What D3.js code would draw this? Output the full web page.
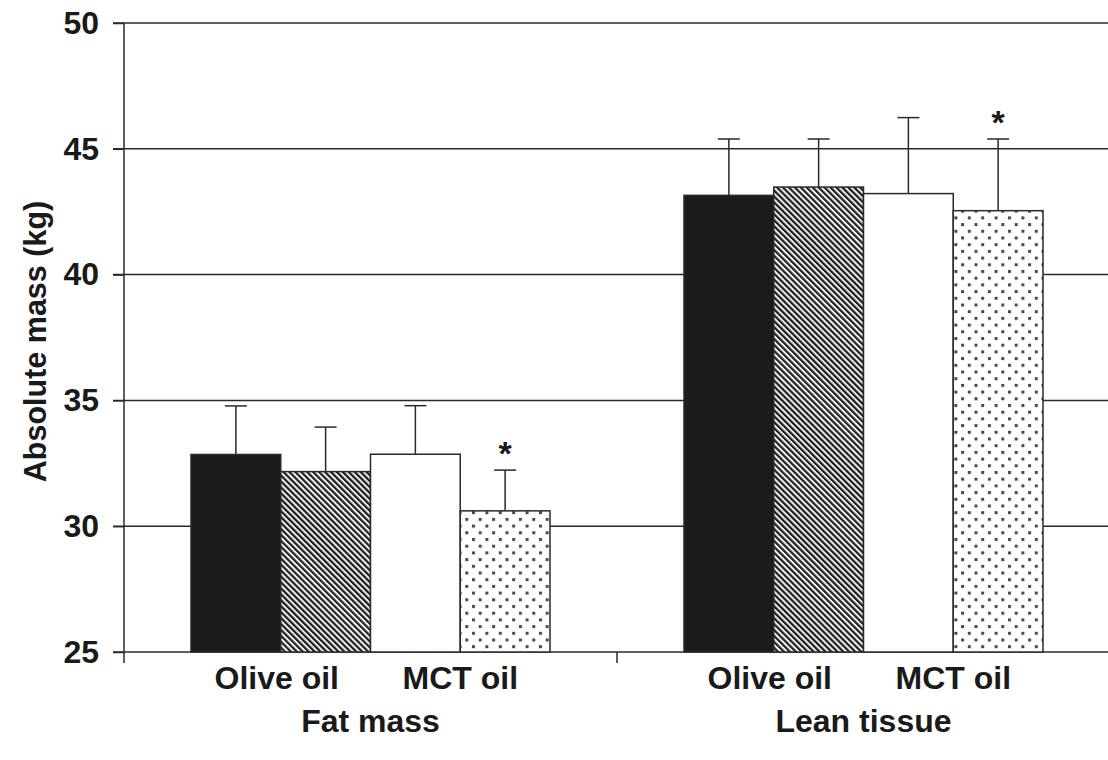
<!DOCTYPE html>
<html>
<head>
<meta charset="utf-8">
<script src="https://cdn.jsdelivr.net/npm/d3@7/dist/d3.min.js"></script>
<style>
  html, body { margin: 0; padding: 0; background: #fff; }
  svg { display: block; }
  text { font-family: "Liberation Sans", Arial, Helvetica, sans-serif; font-weight: bold; fill: #1a1a1a; }
</style>
</head>
<body>
<svg id="chart" width="1108" height="760"></svg>
<script>
// ---- data ----
const groups = ["Fat mass", "Lean tissue"];
const seriesKeys = ["oliveBaseline", "oliveEnd", "mctBaseline", "mctEnd"];
const pairLabels = ["Olive oil", "MCT oil"];
const fatMassMean = [32.85, 32.17, 32.86, 30.61];
const fatMassErr = [1.93, 1.77, 1.93, 1.62];
const leanTissueMean = [43.15, 43.48, 43.22, 42.54];
const leanTissueErr = [2.24, 1.91, 3.02, 2.85];
const significant = [false, false, false, true];
const yTicks = [25, 30, 35, 40, 45, 50];
const yTitle = "Absolute mass (kg)";

// ---- setup ----
const svg = d3.select("#chart");
const W = 1108, H = 760;
const FS = 32;
const x0 = d3.scaleBand().domain(groups).range([124, 1110]).paddingInner(0).paddingOuter(0);
const x1 = d3.scaleBand().domain(seriesKeys).range([0, x0.bandwidth()]).paddingInner(0).paddingOuter(0.7465);
const y = d3.scaleLinear().domain([25, 50]).range([652, 23]);

const lineColor = "#2a2a2a";

// patterns
const defs = svg.append("defs");
const hatch = defs.append("pattern")
  .attr("id", "hatch").attr("patternUnits", "userSpaceOnUse")
  .attr("width", 4.2).attr("height", 10)
  .attr("patternTransform", "rotate(-45)");
hatch.append("rect").attr("width", 4.2).attr("height", 10).attr("fill", "#f2f2f2");
hatch.append("rect").attr("width", 2.2).attr("height", 10).attr("fill", "#1e1e1e");

const dots = defs.append("pattern")
  .attr("id", "dots").attr("patternUnits", "userSpaceOnUse")
  .attr("width", 13.4).attr("height", 13.4).attr("x", 3).attr("y", 2);
dots.append("rect").attr("width", 13.4).attr("height", 13.4).attr("fill", "#ffffff");
dots.append("rect").attr("x", 0).attr("y", 0).attr("width", 3).attr("height", 3).attr("fill", "#4a4a4a");
dots.append("rect").attr("x", 6.7).attr("y", 6.7).attr("width", 3).attr("height", 3).attr("fill", "#4a4a4a");

const fills = { oliveBaseline: "#1c1c1c", oliveEnd: "url(#hatch)", mctBaseline: "#ffffff", mctEnd: "url(#dots)" };

// gridlines
svg.append("g").selectAll("line").data(yTicks.filter(d => d > 25)).join("line")
  .attr("x1", 113).attr("x2", W).attr("y1", d => y(d)).attr("y2", d => y(d))
  .attr("stroke", lineColor).attr("stroke-width", 1.5);

// y axis
const yAxis = d3.axisLeft(y).tickValues(yTicks).tickSize(11).tickPadding(14).tickSizeOuter(0);
const gy = svg.append("g").attr("transform", "translate(124,0)").call(yAxis);
gy.select(".domain").attr("stroke", lineColor).attr("stroke-width", 1.5).attr("d", "M0,23V663");
gy.selectAll(".tick line").attr("stroke", lineColor).attr("stroke-width", 1.5);
gy.selectAll(".tick text").attr("font-size", FS).attr("font-family", "Liberation Sans, Arial, sans-serif").attr("font-weight", "bold").attr("fill", "#1a1a1a");

// x axis line + ticks
svg.append("line").attr("x1", 113).attr("x2", W).attr("y1", y(25)).attr("y2", y(25))
  .attr("stroke", lineColor).attr("stroke-width", 1.5);
const boundaries = [x0(groups[1])];
svg.append("g").selectAll("line").data(boundaries).join("line")
  .attr("x1", d => d).attr("x2", d => d).attr("y1", y(25)).attr("y2", y(25) + 11)
  .attr("stroke", lineColor).attr("stroke-width", 1.5);

// bars
const dataByGroup = [
  { group: groups[0], mean: fatMassMean, err: fatMassErr },
  { group: groups[1], mean: leanTissueMean, err: leanTissueErr }
];
const flat = [];
dataByGroup.forEach(g => seriesKeys.forEach((k, i) => flat.push({ group: g.group, key: k, v: g.mean[i], e: g.err[i], sig: significant[i] })));

const eb = svg.append("g");
flat.forEach(d => {
  const cx = x0(d.group) + x1(d.key) + x1.bandwidth() / 2;
  eb.append("line").attr("x1", cx).attr("x2", cx).attr("y1", y(d.v)).attr("y2", y(d.v + d.e))
    .attr("stroke", lineColor).attr("stroke-width", 1.5);
  eb.append("line").attr("x1", cx - 11).attr("x2", cx + 11).attr("y1", y(d.v + d.e)).attr("y2", y(d.v + d.e))
    .attr("stroke", lineColor).attr("stroke-width", 1.5);
  if (d.sig) {
    eb.append("text").attr("x", cx).attr("y", y(d.v + d.e) - 5)
      .attr("text-anchor", "middle").attr("font-size", 34).text("*");
  }
});

svg.append("g").selectAll("rect").data(flat).join("rect")
  .attr("x", d => x0(d.group) + x1(d.key))
  .attr("y", d => y(d.v))
  .attr("width", x1.bandwidth())
  .attr("height", d => y(25) - y(d.v))
  .attr("fill", d => fills[d.key])
  .attr("stroke", lineColor).attr("stroke-width", 1.5);

// pair labels
groups.forEach(g => {
  pairLabels.forEach((lab, i) => {
    const a = x0(g) + x1(seriesKeys[i * 2]);
    const b = x0(g) + x1(seriesKeys[i * 2 + 1]) + x1.bandwidth();
    svg.append("text").attr("x", (a + b) / 2 - (i === 0 ? 4 : 0)).attr("y", 689)
      .attr("text-anchor", "middle").attr("font-size", FS).text(lab);
  });
  svg.append("text").attr("x", x0(g) + x0.bandwidth() / 2).attr("y", 732)
    .attr("text-anchor", "middle").attr("font-size", FS).text(g);
});

// y title
svg.append("text").attr("transform", `translate(46,${(y(25) + y(50)) / 2 + 4}) rotate(-90)`)
  .attr("text-anchor", "middle").attr("font-size", 30.5).text(yTitle);
</script>
</body>
</html>
